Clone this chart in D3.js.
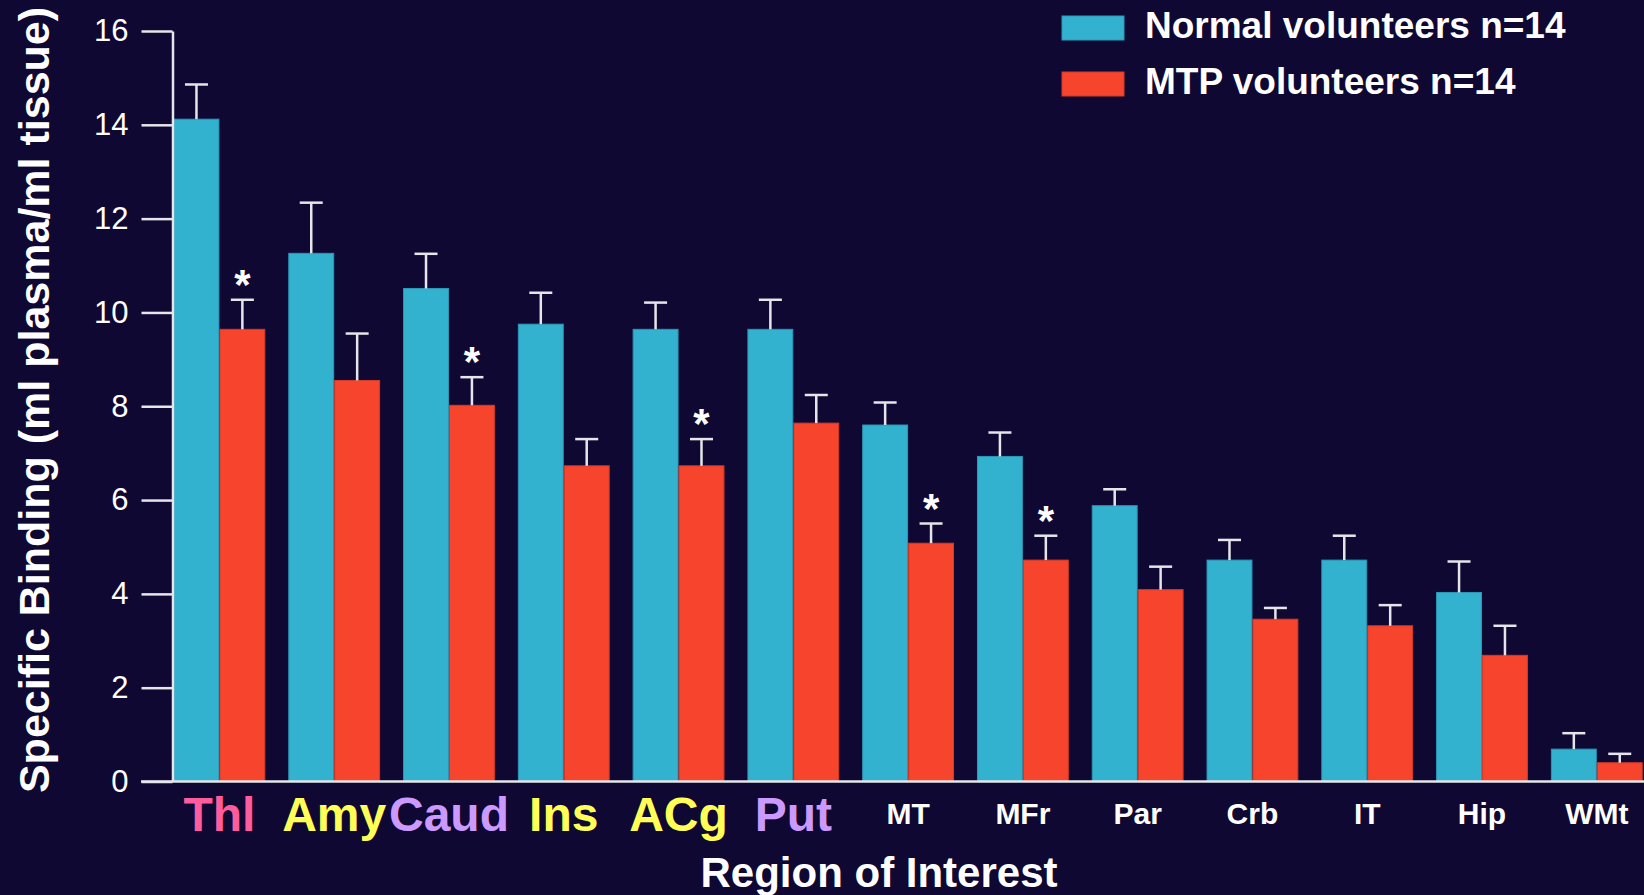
<!DOCTYPE html>
<html>
<head>
<meta charset="utf-8">
<script src="https://cdn.jsdelivr.net/npm/d3@7"></script>
<style>
  html, body { margin: 0; padding: 0; background: #0f0833; }
  svg { display: block; font-family: "Liberation Sans", Arial, Helvetica, sans-serif; }
</style>
</head>
<body>
<div id="chart"></div>
<script>
// regions, in the order they appear on the x axis
const regions = ["Thl", "Amy", "Caud", "Ins", "ACg", "Put", "MT", "MFr", "Par", "Crb", "IT", "Hip", "WMt"];
const regionColors = ["#ff5c9d", "#ffff55", "#cc99ff", "#ffff55", "#ffff55", "#cc99ff",
                      "#ffffff", "#ffffff", "#ffffff", "#ffffff", "#ffffff", "#ffffff", "#ffffff"];
const bigLabel = [true, true, true, true, true, true, false, false, false, false, false, false, false];

const seriesNames = ["Normal volunteers n=14", "MTP volunteers n=14"];
const seriesColors = ["#33b2d0", "#f6442d"];
const seriesStroke = ["#2a98b6", "#d63a26"];

// mean and mean + error
const normalMean = [14.12, 11.26, 10.51, 9.75, 9.64, 9.64, 7.60, 6.93, 5.88, 4.72, 4.72, 4.03, 0.69];
const normalTop  = [14.86, 12.34, 11.25, 10.42, 10.21, 10.27, 8.08, 7.44, 6.23, 5.15, 5.24, 4.69, 1.03];
const mtpMean    = [9.64, 8.55, 8.02, 6.73, 6.73, 7.64, 5.08, 4.72, 4.09, 3.46, 3.32, 2.69, 0.40];
const mtpTop     = [10.27, 9.55, 8.62, 7.30, 7.30, 8.24, 5.50, 5.24, 4.58, 3.70, 3.76, 3.32, 0.59];
// significant differences (asterisk over the MTP bar)
const significant = ["Thl", "Caud", "ACg", "MT", "MFr"];

const yTicks = [0, 2, 4, 6, 8, 10, 12, 14, 16];

const width = 1644, height = 895;
const svg = d3.select("#chart").append("svg")
  .attr("width", width)
  .attr("height", height);

svg.append("rect").attr("width", width).attr("height", height).attr("fill", "#0f0833");

const y = d3.scaleLinear().domain([0, 16]).range([781.5, 31]);
const x = d3.scaleBand().domain(regions).range([173.5, 1642.7]).paddingInner(0.2).paddingOuter(0);
const xs = d3.scaleBand().domain([0, 1]).range([0, x.bandwidth()]).padding(0);

const rows = regions.map((r, i) => ({
  region: r,
  vals: [
    { s: 0, mean: normalMean[i], top: normalTop[i] },
    { s: 1, mean: mtpMean[i], top: mtpTop[i] }
  ]
}));

// bars
const groups = svg.append("g").selectAll("g")
  .data(rows)
  .join("g")
    .attr("transform", d => `translate(${x(d.region)},0)`);

groups.selectAll("rect")
  .data(d => d.vals)
  .join("rect")
    .attr("x", d => xs(d.s) + 0.5)
    .attr("width", xs.bandwidth() - 1)
    .attr("y", d => y(d.mean))
    .attr("height", d => y(0) - y(d.mean))
    .attr("fill", d => seriesColors[d.s])
    .attr("stroke", d => seriesStroke[d.s])
    .attr("stroke-width", 1);

// error bars
const capW = 23;
const eb = groups.selectAll("g.err")
  .data(d => d.vals)
  .join("g")
    .attr("class", "err")
    .attr("stroke", "#e6e6ea")
    .attr("stroke-width", 2.5);
eb.append("line")
  .attr("x1", d => xs(d.s) + xs.bandwidth() / 2)
  .attr("x2", d => xs(d.s) + xs.bandwidth() / 2)
  .attr("y1", d => y(d.mean))
  .attr("y2", d => y(d.top));
eb.append("line")
  .attr("x1", d => xs(d.s) + xs.bandwidth() / 2 - capW / 2)
  .attr("x2", d => xs(d.s) + xs.bandwidth() / 2 + capW / 2)
  .attr("y1", d => y(d.top))
  .attr("y2", d => y(d.top));

// asterisks
groups.filter(d => significant.includes(d.region))
  .append("text")
    .attr("x", xs(1) + xs.bandwidth() / 2)
    .attr("y", d => y(d.vals[1].top) - 1)
    .attr("text-anchor", "middle")
    .attr("fill", "#ffffff")
    .attr("font-size", 42)
    .attr("font-weight", "bold")
    .text("*");

// y axis
const yAxis = svg.append("g")
  .attr("transform", `translate(${x.range()[0] - 1},0)`)
  .call(d3.axisLeft(y).tickValues(yTicks).tickSize(31).tickSizeOuter(0).tickPadding(13));
yAxis.select(".domain").attr("stroke", "#e6e6ea").attr("stroke-width", 2.5);
yAxis.selectAll(".tick line").attr("stroke", "#e6e6ea").attr("stroke-width", 2.5);
yAxis.selectAll(".tick text")
  .attr("fill", "#ffffff")
  .attr("font-size", 31)
  .attr("font-family", "Liberation Sans, Arial, sans-serif");

// x axis baseline
svg.append("line")
  .attr("x1", 141).attr("x2", width)
  .attr("y1", y(0)).attr("y2", y(0))
  .attr("stroke", "#e6e6ea")
  .attr("stroke-width", 2.5);

// region labels
svg.append("g").selectAll("text")
  .data(regions)
  .join("text")
    .attr("x", d => x(d) + x.bandwidth() / 2)
    .attr("y", (d, i) => bigLabel[i] ? 831 : 824)
    .attr("text-anchor", "middle")
    .attr("font-weight", "bold")
    .attr("font-size", (d, i) => bigLabel[i] ? 48 : 30)
    .attr("fill", (d, i) => regionColors[i])
    .text(d => d);

// axis titles
svg.append("text")
  .attr("x", 879).attr("y", 887)
  .attr("text-anchor", "middle")
  .attr("font-weight", "bold")
  .attr("font-size", 42)
  .attr("fill", "#ffffff")
  .text("Region of Interest");

svg.append("text")
  .attr("transform", "translate(49,400) rotate(-90)")
  .attr("text-anchor", "middle")
  .attr("font-weight", "bold")
  .attr("font-size", 43)
  .attr("fill", "#ffffff")
  .text("Specific Binding (ml plasma/ml tissue)");

// legend
const legend = svg.append("g").selectAll("g")
  .data(seriesNames)
  .join("g")
    .attr("transform", (d, i) => `translate(1062,${16 + i * 56})`);
legend.append("rect")
  .attr("width", 62).attr("height", 24)
  .attr("fill", (d, i) => seriesColors[i])
  .attr("stroke", (d, i) => seriesStroke[i]);
legend.append("text")
  .attr("x", 83).attr("y", 22)
  .attr("font-weight", "bold")
  .attr("font-size", 37)
  .attr("fill", "#ffffff")
  .text(d => d);
</script>
</body>
</html>
